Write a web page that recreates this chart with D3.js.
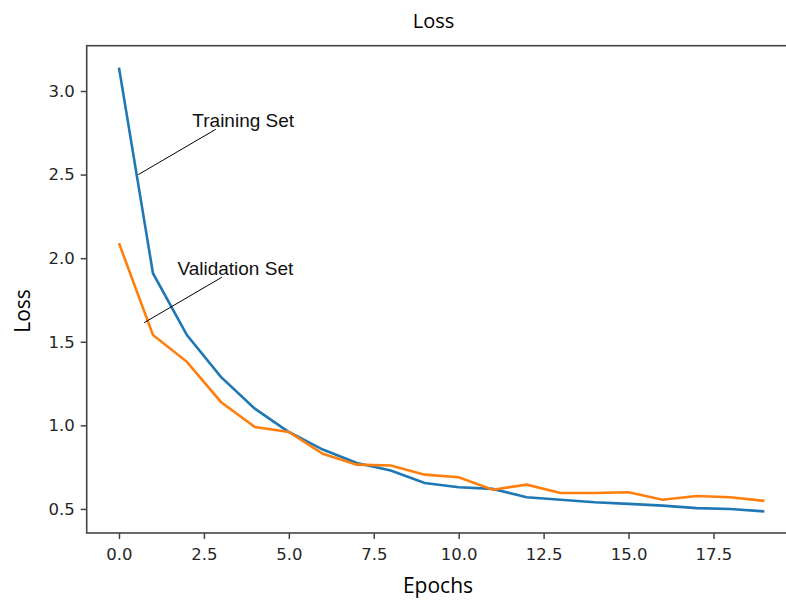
<!DOCTYPE html>
<html>
<head>
<meta charset="utf-8">
<script src="https://cdn.jsdelivr.net/npm/d3@7"></script>
<style>
  body { margin: 0; background: white; }
</style>
</head>
<body>
<div id="vis"></div>
<script>
// epochs 0..19
let epochs = d3.range(20)

// loss per epoch
let trainingLoss = [3.14, 1.91, 1.54, 1.29, 1.10, 0.96, 0.855, 0.775, 0.73, 0.655,
  0.63, 0.62, 0.57, 0.555, 0.54, 0.53, 0.52, 0.505, 0.50, 0.485]
let validationLoss = [2.09, 1.54, 1.38, 1.14, 0.99, 0.96, 0.83, 0.765, 0.76, 0.705,
  0.69, 0.615, 0.645, 0.595, 0.595, 0.60, 0.555, 0.577, 0.57, 0.548]

let xTicks = [0, 2.5, 5, 7.5, 10, 12.5, 15, 17.5]
let yTicks = [0.5, 1.0, 1.5, 2.0, 2.5, 3.0]

// annotation labels with their arrow points (data units)
let annotations = [
  { label: 'Training Set', tx: 2.16, ty: 2.783, lx: 2.85, ly: 2.771, px: 0.57, py: 2.50 },
  { label: 'Validation Set', tx: 1.72, ty: 1.90, lx: 3.03, ly: 1.886, px: 0.74, py: 1.614 }
]

let width = 786,
  height = 601

let svg = d3.select('#vis')
  .append('svg')
  .attr('width', width)
  .attr('height', height)
  .style('background-color', 'white')

// axes box (right side runs past the picture edge)
let x = d3.scaleLinear().domain([-0.95, 19.95]).range([86.7, 796.7])
let y = d3.scaleLinear().domain([0.356, 3.271]).range([533, 45.7])

svg.append('rect')
  .attr('x', x.range()[0])
  .attr('y', y.range()[1])
  .attr('width', x.range()[1] - x.range()[0])
  .attr('height', y.range()[0] - y.range()[1])
  .attr('fill', 'none')
  .attr('stroke', '#444')
  .attr('stroke-width', 1.6)

// bottom axis
let xAxis = svg.append('g')
  .attr('transform', `translate(0,${y.range()[0]})`)
  .call(d3.axisBottom(x).tickValues(xTicks).tickFormat(d3.format('.1f'))
    .tickSize(6).tickPadding(9).tickSizeOuter(0))

// left axis
let yAxis = svg.append('g')
  .attr('transform', `translate(${x.range()[0]},0)`)
  .call(d3.axisLeft(y).tickValues(yTicks).tickFormat(d3.format('.1f'))
    .tickSize(6).tickPadding(6).tickSizeOuter(0))

svg.selectAll('.domain').remove()
svg.selectAll('.tick line').attr('stroke', '#444').attr('stroke-width', 1.5)
svg.selectAll('.tick text')
  .attr('fill', '#262626')
  .style('font-family', 'DejaVu Sans')
  .style('font-size', '16.5px')

// lines
let line = d3.line()
  .x((d, i) => x(epochs[i]))
  .y(d => y(d))

svg.append('path')
  .datum(trainingLoss)
  .attr('d', line)
  .attr('fill', 'none')
  .attr('stroke', '#1f77b4')
  .attr('stroke-width', 2.6)

svg.append('path')
  .datum(validationLoss)
  .attr('d', line)
  .attr('fill', 'none')
  .attr('stroke', '#ff7f0e')
  .attr('stroke-width', 2.6)

// annotations
annotations.forEach(function (a) {
  svg.append('line')
    .attr('x1', x(a.lx))
    .attr('y1', y(a.ly))
    .attr('x2', x(a.px))
    .attr('y2', y(a.py))
    .attr('stroke', 'black')
    .attr('stroke-width', 1)
  svg.append('text')
    .attr('x', x(a.tx))
    .attr('y', y(a.ty))
    .text(a.label)
    .style('font-family', 'Liberation Sans')
    .style('font-size', '19px')
    .attr('fill', '#111')
})

// title and axis labels
svg.append('text')
  .attr('x', 433.5)
  .attr('y', 28)
  .attr('text-anchor', 'middle')
  .style('font-family', 'Open Sans')
  .style('font-size', '20px')
  .text('Loss')

svg.append('text')
  .attr('x', 438)
  .attr('y', 593)
  .attr('text-anchor', 'middle')
  .style('font-family', 'Open Sans')
  .style('font-size', '21px')
  .text('Epochs')

svg.append('text')
  .attr('transform', 'translate(30,311) rotate(-90)')
  .attr('text-anchor', 'middle')
  .style('font-family', 'Open Sans')
  .style('font-size', '21px')
  .text('Loss')
</script>
</body>
</html>
